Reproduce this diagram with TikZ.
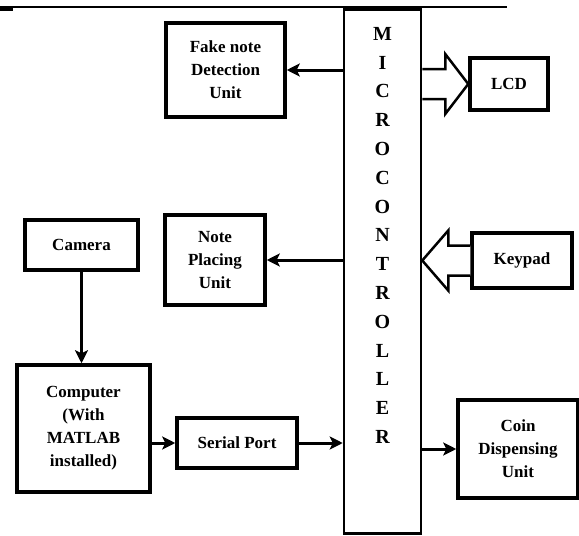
\documentclass[tikz,border=0pt]{standalone}
\usepackage{fontspec}
\setmainfont{Liberation Serif}
\usetikzlibrary{arrows.meta,calc}

\begin{document}
\begin{tikzpicture}[
        x=1pt, y=-1pt,
        unit/.style={draw, line width=3.5pt, align=center, inner sep=2pt, font=\fontsize{17}{23}\selectfont\bfseries},
        mcu/.style={draw, line width=2.5pt, minimum width=77pt, minimum height=524pt, inner sep=0pt},
        conn/.style={line width=3pt, -{Stealth[length=13pt,width=13pt,inset=3pt]}},
        hollow/.style={draw, line width=2.5pt, fill=white, line join=miter}
    ]
    \useasboundingbox (0,0) rectangle (579,536);

    % --- Page rule ---
    \draw[line width=1.5pt] (0,7) -- (507,7);
    \draw[line width=3pt] (0,9) -- (13,9);

    % --- Microcontroller ---
    \node[mcu] (micro) at (382.5,271.5) {};
    \node[anchor=north, align=center, inner sep=0pt, font=\fontsize{20}{28.8}\selectfont\bfseries] (mcutext) at (382.5,27)
        {M\\I\\C\\R\\O\\C\\O\\N\\T\\R\\O\\L\\L\\E\\R};

    % --- Left side ---
    \node[unit, minimum width=119pt, minimum height=94pt] (fake) at (225.5,70) {Fake note\\Detection\\Unit};
    \node[unit, minimum width=100pt, minimum height=90pt] (note) at (215,260) {Note\\Placing\\Unit};
    \node[unit, minimum width=113pt, minimum height=50pt] (camera) at (81.5,245) {Camera};
    \node[unit, minimum width=133pt, minimum height=127pt] (comp) at (83.5,428.5) {Computer\\(With\\MATLAB\\installed)};
    \node[unit, minimum width=120pt, minimum height=50pt] (serial) at (237,443) {Serial Port};

    % --- Right side ---
    \node[unit, minimum width=78pt, minimum height=52pt] (lcd) at (509,84) {LCD};
    \node[unit, minimum width=100pt, minimum height=55pt] (keypad) at (522,260.5) {Keypad};
    \node[unit, minimum width=120pt, minimum height=98pt] (coin) at (518,449) {Coin\\Dispensing\\Unit};

    % --- Connections ---
    \draw[conn] (micro.west |- fake.east) -- (fake.east);
    \draw[conn] (micro.west |- note.east) -- (note.east);
    \draw[conn] (camera.south) -- (camera.south |- comp.north);
    \draw[conn] (comp.east |- serial.west) -- (serial.west);
    \draw[conn] (serial.east) -- (serial.east -| micro.west);
    \draw[conn] (micro.east |- coin.west) -- (coin.west);

    % Hollow bus arrows
    \draw[hollow] ($(micro.east |- lcd.west)+(0,-15)$) -- ($(lcd.west)+(-23,-15)$) -- ($(lcd.west)+(-23,-30)$)
        -- (lcd.west) -- ($(lcd.west)+(-23,30)$) -- ($(lcd.west)+(-23,15)$) -- ($(micro.east |- lcd.west)+(0,15)$);
    \draw[hollow] ($(keypad.west)+(0,-15)$) -- ($(micro.east |- keypad.west)+(26,-15)$) -- ($(micro.east |- keypad.west)+(26,-30)$)
        -- (micro.east |- keypad.west) -- ($(micro.east |- keypad.west)+(26,30)$) -- ($(micro.east |- keypad.west)+(26,15)$)
        -- ($(keypad.west)+(0,15)$);

\end{tikzpicture}
\end{document}
